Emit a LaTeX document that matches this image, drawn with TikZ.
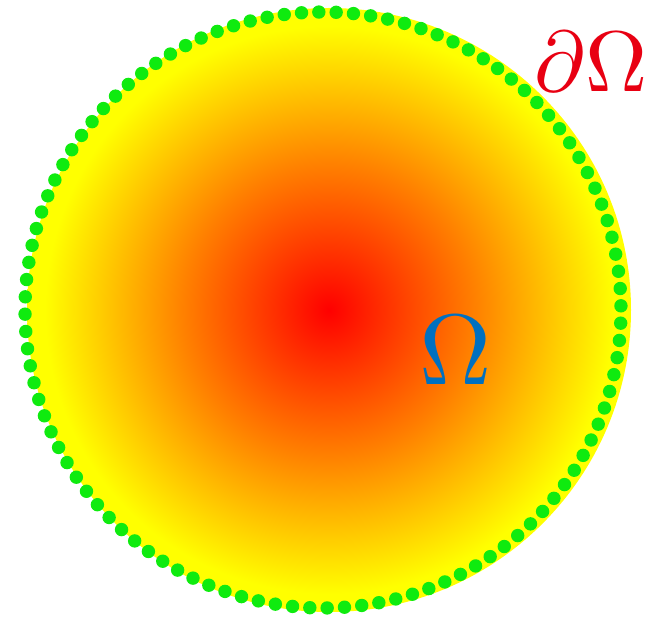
\documentclass[tikz,border=0pt]{standalone}
\definecolor{dotgreen}{RGB}{15,235,15}
\definecolor{labred}{RGB}{232,0,18}
\definecolor{labblue}{RGB}{0,112,192}
\pgfdeclareradialshading{glow}{\pgfpoint{0bp}{0bp}}{rgb(0bp)=(1,0,0); rgb(12bp)=(1,0.5,0); rgb(23.5bp)=(1,1,0); rgb(50bp)=(1,1,0)}
\tikzset{
  greendot/.style={fill=dotgreen},
  lab/.style={inner sep=0pt}
}
\begin{document}
\begin{tikzpicture}[x=1pt,y=-1pt]
\useasboundingbox (0,0) rectangle (649,620);
\shade[shading=glow] (329,310) circle[radius=302pt];
\foreach \i in {0,...,107}{
  \pgfmathsetmacro{\ang}{90.8+\i*10/3}
  \fill[greendot] ({323+298*cos(\ang)},{310-298*sin(\ang)}) circle[radius=6.7pt];
}
\node[lab,text=labred,scale=8.6] (dOmega) at (591,62) {$\partial\Omega$};
\node[lab,text=labblue,scale=10] (Omega) at (456,350) {$\Omega$};
\end{tikzpicture}
\end{document}
